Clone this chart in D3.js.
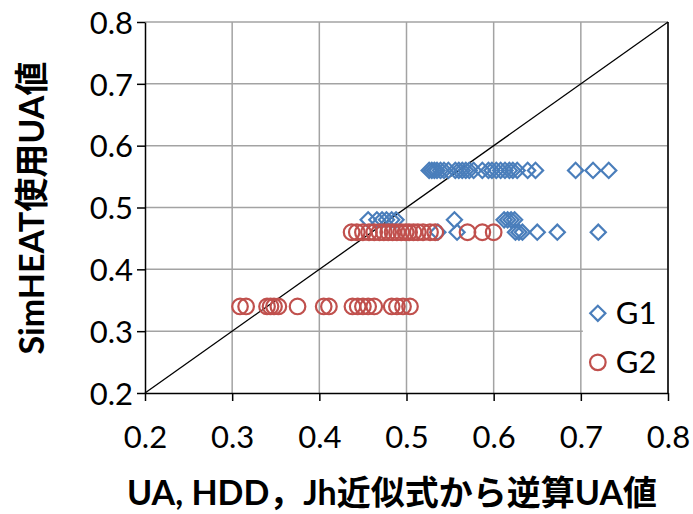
<!DOCTYPE html>
<html>
<head>
  <meta charset="utf-8">
  <script src="https://d3js.org/d3.v7.min.js"></script>
  <style>
    html, body { margin: 0; padding: 0; background: #fff; overflow: hidden; }
    svg { display: block; }
    text { font-family: "Lato", "Noto Sans CJK JP", sans-serif; fill: #000; }
  </style>
</head>
<body>
  <svg id="chart"></svg>
  <script>
    // x values (逆算UA) for each SimHEAT UA level
    var g1At056 = [0.526, 0.529, 0.532, 0.535, 0.539, 0.543, 0.548, 0.556, 0.560, 0.564, 0.568, 0.572,
                   0.577, 0.587, 0.594, 0.598, 0.603, 0.608, 0.613, 0.618, 0.622, 0.627, 0.639, 0.648,
                   0.694, 0.714, 0.732];
    var g1At048 = [0.456, 0.466, 0.472, 0.477, 0.483, 0.488, 0.555, 0.612, 0.616, 0.620, 0.624];
    var g1At046 = [0.536, 0.558, 0.625, 0.629, 0.633, 0.650, 0.673, 0.720];
    var g2At046 = [0.437, 0.443, 0.450, 0.457, 0.463, 0.469, 0.474, 0.479, 0.484, 0.489, 0.494, 0.499,
                   0.503, 0.508, 0.513, 0.519, 0.527, 0.533, 0.570, 0.587, 0.600];
    var g2At034 = [0.309, 0.316, 0.340, 0.344, 0.348, 0.353, 0.375, 0.405, 0.411, 0.438, 0.444,
                   0.450, 0.456, 0.463, 0.483, 0.489, 0.496, 0.504];
    var seriesNames = ["G1", "G2"];
    var tickValues = [0.2, 0.3, 0.4, 0.5, 0.6, 0.7, 0.8];
    var xTitle = "UA, HDD\uFF0CJh近似式から逆算UA値";
    var yTitle = "SimHEAT使用UA値";

    var g1 = g1At056.map(x => [x, 0.56])
      .concat(g1At048.map(x => [x, 0.48]))
      .concat(g1At046.map(x => [x, 0.46]));
    var g2 = g2At046.map(x => [x, 0.46])
      .concat(g2At034.map(x => [x, 0.34]));

    var width = 693, height = 514;
    var margin = { top: 22, right: 25, bottom: 121, left: 145 };
    var innerWidth = width - margin.left - margin.right;
    var innerHeight = height - margin.top - margin.bottom;

    var blue = "#4a7ebb", red = "#c0504d";

    var svg = d3.select("#chart")
      .attr("width", width)
      .attr("height", height);

    var chart = svg.append("g")
      .attr("transform", "translate(" + margin.left + "," + margin.top + ")");

    var x = d3.scaleLinear().domain([0.2, 0.8]).range([0, innerWidth]);
    var y = d3.scaleLinear().domain([0.2, 0.8]).range([innerHeight, 0]);

    // gridlines
    chart.append("g")
      .selectAll("line.gx")
      .data(tickValues.slice(1))
      .enter().append("line")
      .attr("x1", d => x(d)).attr("x2", d => x(d))
      .attr("y1", 0).attr("y2", innerHeight)
      .attr("stroke", "#a3a3a3").attr("stroke-width", 1.5);

    chart.append("g")
      .selectAll("line.gy")
      .data(tickValues.slice(1))
      .enter().append("line")
      .attr("x1", 0).attr("x2", innerWidth)
      .attr("y1", d => y(d)).attr("y2", d => y(d))
      .attr("stroke", "#a3a3a3").attr("stroke-width", 1.5);

    // plot area right border
    chart.append("line")
      .attr("x1", innerWidth).attr("x2", innerWidth)
      .attr("y1", 0).attr("y2", innerHeight)
      .attr("stroke", "#000").attr("stroke-width", 1.5);

    // 1:1 line
    chart.append("line")
      .attr("x1", x(0.2)).attr("y1", y(0.2))
      .attr("x2", x(0.8)).attr("y2", y(0.8))
      .attr("stroke", "#000").attr("stroke-width", 1.3);

    var diamond = d3.symbol().type(d3.symbolSquare).size(115);

    chart.append("g")
      .selectAll("path")
      .data(g1)
      .enter().append("path")
      .attr("d", diamond)
      .attr("transform", d => "translate(" + x(d[0]) + "," + y(d[1]) + ") rotate(45)")
      .attr("fill", "none")
      .attr("stroke", blue)
      .attr("stroke-width", 2.2);

    chart.append("g")
      .selectAll("circle")
      .data(g2)
      .enter().append("circle")
      .attr("cx", d => x(d[0]))
      .attr("cy", d => y(d[1]))
      .attr("r", 7.8)
      .attr("fill", "none")
      .attr("stroke", red)
      .attr("stroke-width", 2.2);

    // axes
    var xAxis = chart.append("g")
      .attr("transform", "translate(0," + innerHeight + ")")
      .call(d3.axisBottom(x).tickValues(tickValues).tickFormat(d3.format(".1f")).tickSize(8).tickSizeOuter(0));
    var yAxis = chart.append("g")
      .call(d3.axisLeft(y).tickValues(tickValues).tickFormat(d3.format(".1f")).tickSize(8).tickSizeOuter(0));

    [xAxis, yAxis].forEach(function(a) {
      a.select(".domain").attr("stroke", "#000").attr("stroke-width", 1.5);
      a.selectAll(".tick line").attr("stroke", "#000").attr("stroke-width", 1.5);
      a.selectAll(".tick text")
        .style("font-family", "Lato, sans-serif")
        .style("font-size", "31px")
        .attr("fill", "#000");
    });
    xAxis.selectAll(".tick text").attr("dy", "0").attr("y", 55);
    yAxis.selectAll(".tick text").attr("x", -12).attr("dy", "0.36em");

    // legend
    var legend = chart.append("g")
      .attr("transform", "translate(" + (x(0.7) + 2) + "," + (y(0.4) + 20) + ")");
    legend.append("rect")
      .attr("width", innerWidth - x(0.7) - 3)
      .attr("height", 95)
      .attr("fill", "#fff");
    legend.append("path")
      .attr("d", diamond)
      .attr("transform", "translate(15,24) rotate(45)")
      .attr("fill", "none").attr("stroke", blue).attr("stroke-width", 2.2);
    legend.append("circle")
      .attr("cx", 15).attr("cy", 73).attr("r", 7.8)
      .attr("fill", "none").attr("stroke", red).attr("stroke-width", 2.2);
    legend.selectAll("text")
      .data(seriesNames)
      .enter().append("text")
      .attr("x", 33)
      .attr("y", (d, i) => 24 + i * 49)
      .attr("dy", "0.36em")
      .style("font-size", "31px")
      .text(d => d);

    // axis titles
    svg.append("text")
      .attr("x", 392)
      .attr("y", 505)
      .attr("text-anchor", "middle")
      .style("font-size", "34px")
      .style("font-weight", "bold")
      .text(xTitle);

    svg.append("text")
      .attr("transform", "translate(44,208) rotate(-90)")
      .attr("text-anchor", "middle")
      .style("font-size", "34px")
      .style("font-weight", "bold")
      .text(yTitle);
  </script>
</body>
</html>
